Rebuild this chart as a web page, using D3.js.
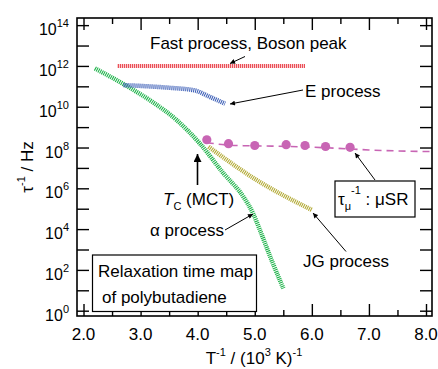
<!DOCTYPE html>
<html><head><meta charset="utf-8">
<script src="https://cdn.jsdelivr.net/npm/d3@7"></script>
<style>
body{margin:0;background:#fff;}
svg{display:block;font-family:"Liberation Sans",Arial,sans-serif;}
</style></head>
<body><svg id="c" width="438" height="369"></svg>
<script>
// ---- data (x = 1000/T in K^-1, y = log10 of tau^-1 in Hz) ----
const fastX = [2.60, 5.88];
const fastLog = [12.0, 12.0];
const eX = [2.70, 3.00, 3.50, 3.95, 4.20, 4.48];
const eLog = [11.06, 11.02, 10.93, 10.80, 10.50, 10.15];
const alphaX = [2.20, 2.78, 3.20, 3.63, 4.04, 4.45, 4.80, 4.97, 5.09, 5.27, 5.50];
const alphaLog = [11.88, 10.98, 10.25, 9.35, 8.19, 6.74, 5.59, 4.77, 3.96, 2.65, 1.10];
const jgX = [4.19, 5.03, 6.00];
const jgLog = [8.04, 6.41, 4.94];
const muX = [4.16, 4.54, 5.00, 5.55, 5.88, 6.24, 6.67];
const muLog = [8.38, 8.19, 8.10, 8.14, 8.10, 8.05, 8.01];
const muFitX = [4.16, 4.35, 4.80, 5.30, 6.05, 6.45, 7.00, 8.10];
const muFitLog = [8.25, 8.17, 8.09, 8.07, 8.01, 7.96, 7.88, 7.80];
const xMajor = [2, 3, 4, 5, 6, 7, 8];
const xMinor = [2.5, 3.5, 4.5, 5.5, 6.5, 7.5];
const xTickLabels = ["2.0", "3.0", "4.0", "5.0", "6.0", "7.0", "8.0"];
const yDecades = d3.range(0, 15);
const yLabelExps = [0, 2, 4, 6, 8, 10, 12, 14];

const svg = d3.select("#c");
const L = 77, R = 432, T = 18, B = 316;
const x = d3.scaleLinear().domain([1.886, 8.105]).range([L, R]);
const y = d3.scaleLog().domain([Math.pow(10, -0.26), Math.pow(10, 14.35)]).range([B, T]);
const P = (xs, ls) => xs.map((v, i) => [v, Math.pow(10, ls[i])]);
const line = d3.line().x(d => x(d[0])).y(d => y(d[1])).curve(d3.curveMonotoneX);

// axes
const g = svg.append("g");
function styleAxis(sel){ sel.select(".domain").remove(); sel.selectAll("line").attr("stroke","#000").attr("stroke-width",1.4); sel.selectAll("text").remove(); }
g.append("g").attr("transform",`translate(0,${B})`).call(d3.axisBottom(x).tickValues(xMajor).tickSize(-12)).call(styleAxis);
g.append("g").attr("transform",`translate(0,${B})`).call(d3.axisBottom(x).tickValues(xMinor).tickSize(-6)).call(styleAxis);
g.append("g").attr("transform",`translate(0,${T})`).call(d3.axisTop(x).tickValues(xMajor).tickSize(-12)).call(styleAxis);
g.append("g").attr("transform",`translate(0,${T})`).call(d3.axisTop(x).tickValues(xMinor).tickSize(-6)).call(styleAxis);
const decVals = yDecades.map(e => Math.pow(10, e));
g.append("g").attr("transform",`translate(${L},0)`).call(d3.axisLeft(y).tickValues(decVals).tickSize(-12)).call(styleAxis);
g.append("g").attr("transform",`translate(${R},0)`).call(d3.axisRight(y).tickValues(decVals).tickSize(-12)).call(styleAxis);
svg.append("rect").attr("x",L).attr("y",T).attr("width",R-L).attr("height",B-T).attr("fill","none").attr("stroke","#000").attr("stroke-width",1.6);

// tick labels
svg.append("g").selectAll("text").data(xMajor).join("text")
  .attr("x", d => x(d)).attr("y", 340).attr("text-anchor","middle").attr("font-size",17)
  .text((d,i) => xTickLabels[i]);
const yl = svg.append("g").selectAll("text").data(yLabelExps).join("text")
  .attr("x", 69).attr("y", d => y(Math.pow(10,d)) + 10).attr("text-anchor","end").attr("font-size",16);
yl.append("tspan").text("10");
yl.append("tspan").attr("dy",-8).attr("font-size",11).text(d => d);

// axis titles
const xt = svg.append("text").attr("x",254).attr("y",364).attr("text-anchor","middle").attr("font-size",17);
xt.append("tspan").text("T");
xt.append("tspan").attr("dy",-8).attr("font-size",11).text("-1");
xt.append("tspan").attr("dy",8).text(" / (10");
xt.append("tspan").attr("dy",-8).attr("font-size",11).text("3");
xt.append("tspan").attr("dy",8).text(" K)");
xt.append("tspan").attr("dy",-8).attr("font-size",11).text("-1");
const ytt = svg.append("text").attr("transform","translate(33,167) rotate(-90)").attr("text-anchor","middle").attr("font-size",17);
ytt.append("tspan").text("τ");
ytt.append("tspan").attr("dy",-8).attr("font-size",11).text("-1");
ytt.append("tspan").attr("dy",8).text(" / Hz");

// curves
function hatched(data, color, w){
  svg.append("path").datum(data).attr("d", line).attr("fill","none")
    .attr("stroke", color).attr("stroke-width", w).attr("stroke-dasharray","1.1,0.9");
}
hatched(P(fastX, fastLog), "#e8323c", 4);
hatched(P(alphaX, alphaLog), "#1fb34b", 4.5);
hatched(P(eX, eLog), "#3f61b8", 4.5);
hatched(P(jgX, jgLog), "#b3aa35", 4.5);
svg.append("path").datum(P(muFitX, muFitLog)).attr("d", line).attr("fill","none")
  .attr("stroke","#c865b4").attr("stroke-width",1.6).attr("stroke-dasharray","7,5");
svg.append("g").selectAll("circle").data(P(muX, muLog)).join("circle")
  .attr("cx", d => x(d[0])).attr("cy", d => y(d[1])).attr("r", 4.6).attr("fill","#c865b4");

// arrows
const defs = svg.append("defs");
defs.append("marker").attr("id","ah").attr("viewBox","0 0 10 10").attr("refX",10).attr("refY",5)
  .attr("markerWidth",7).attr("markerHeight",5).attr("orient","auto").attr("markerUnits","userSpaceOnUse")
  .append("path").attr("d","M0,0L10,5L0,10z").attr("fill","#000");
defs.append("marker").attr("id","ah2").attr("viewBox","0 0 10 10").attr("refX",10).attr("refY",5)
  .attr("markerWidth",11).attr("markerHeight",8).attr("orient","auto").attr("markerUnits","userSpaceOnUse")
  .append("path").attr("d","M0,0L10,5L0,10z").attr("fill","#000");
const arrows = [
  [245, 56.5, 230, 63.5, "ah", 1],
  [303, 90, 230, 104, "ah", 1],
  [225, 230, 253, 214, "ah", 1],
  [346, 251.5, 313, 213, "ah", 1],
  [375, 180, 355, 153, "ah", 1],
  [197.5, 185, 197.5, 154, "ah2", 1.6]
];
svg.append("g").selectAll("line").data(arrows).join("line")
  .attr("x1", d => d[0]).attr("y1", d => d[1]).attr("x2", d => d[2]).attr("y2", d => d[3])
  .attr("stroke","#000").attr("stroke-width", d => d[5]).attr("marker-end", d => `url(#${d[4]})`);

// annotations
svg.append("text").attr("x",150).attr("y",49).attr("font-size",17).text("Fast process, Boson peak");
svg.append("text").attr("x",305).attr("y",97).attr("font-size",17).text("E process");
const tc = svg.append("text").attr("x",163).attr("y",205).attr("font-size",17);
tc.append("tspan").attr("font-style","italic").text("T");
tc.append("tspan").attr("dy",5).attr("font-size",11).text("C");
tc.append("tspan").attr("dy",-5).text(" (MCT)");
svg.append("text").attr("x",150).attr("y",236).attr("font-size",17).text("α process");
svg.append("text").attr("x",303).attr("y",267).attr("font-size",17).text("JG process");

svg.append("rect").attr("x",335).attr("y",181).attr("width",80).attr("height",36).attr("fill","#fff").attr("stroke","#000").attr("stroke-width",1.2);
const mu = svg.append("text").attr("x",338).attr("y",205).attr("font-size",17);
mu.append("tspan").text("τ");
mu.append("tspan").attr("dy",5).attr("font-size",11).text("μ");
mu.append("tspan").attr("dy",-16).attr("font-size",11).text("-1");
mu.append("tspan").attr("dy",11).text(" : μSR");

svg.append("rect").attr("x",92.5).attr("y",255).attr("width",164).attr("height",56.5).attr("fill","#fff").attr("stroke","#000").attr("stroke-width",1.2);
svg.append("text").attr("x",98).attr("y",277).attr("font-size",17).text("Relaxation time map");
svg.append("text").attr("x",102).attr("y",303).attr("font-size",17).text("of polybutadiene");
</script></body></html>
